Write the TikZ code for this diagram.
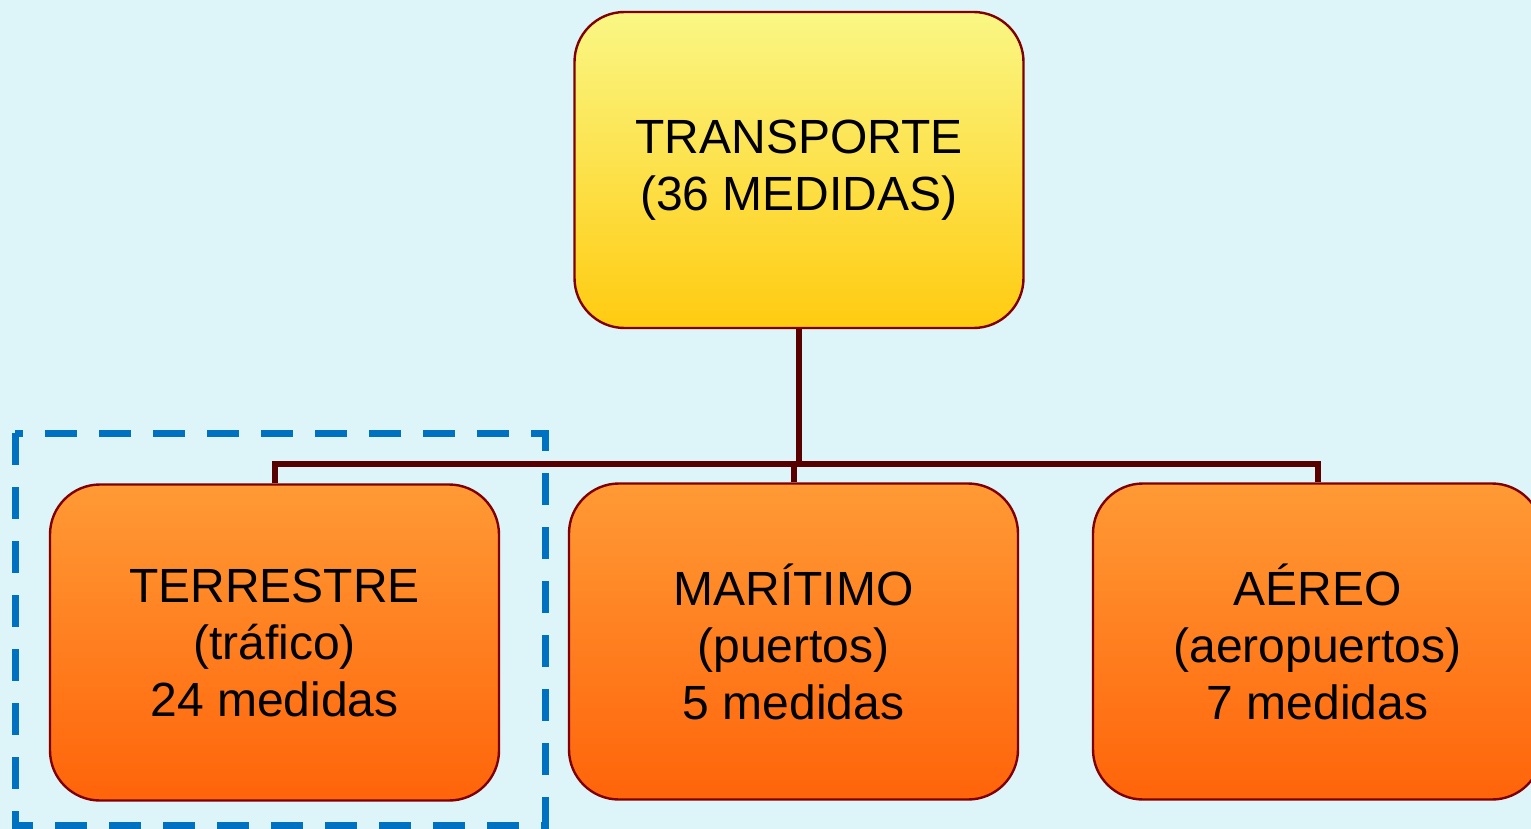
\documentclass[tikz,border=0pt]{standalone}
\usepackage{fontspec}
\setmainfont{Liberation Sans}
\definecolor{fondo}{HTML}{DDF4F8}
\definecolor{borde}{HTML}{800000}
\definecolor{enlace}{HTML}{580000}
\definecolor{amarilloA}{HTML}{FAF785}
\definecolor{amarilloB}{HTML}{FFCB10}
\definecolor{naranjaA}{HTML}{FF9A35}
\definecolor{naranjaB}{HTML}{FF640A}
\definecolor{azul}{HTML}{0070C0}
\tikzstyle{caja}=[rectangle, rounded corners=25pt, draw=borde, line width=1.2pt, minimum width=224.5pt, minimum height=158pt, inner sep=0pt, align=center, font=\fontsize{24}{28.5}\selectfont]
\tikzstyle{raiz}=[caja, top color=amarilloA, bottom color=amarilloB]
\tikzstyle{rama}=[caja, top color=naranjaA, bottom color=naranjaB]
\tikzstyle{enlace}=[draw=enlace, line width=3pt]
\tikzstyle{marco}=[draw=azul, line width=3.5pt, dash pattern=on 16pt off 11pt]
\newcommand{\raiz}{\node[raiz]}
\newcommand{\rama}{\node[rama]}

\begin{document}
\begin{tikzpicture}[x=0.5pt, y=-0.5pt]
\useasboundingbox (0,0) rectangle (1531,829);
\clip (0,0) rectangle (1531,829);
\fill[fondo] (0,0) rectangle (1531,829);
\raiz (trans) at (799,170){TRANSPORTE\\(36 MEDIDAS)};
\rama (terr) at (274.5,642.5){TERRESTRE\\(tráfico)\\24 medidas};
\rama (mar) at (793.5,641.5){MARÍTIMO\\(puertos)\\5 medidas};
\rama (aereo) at (1317.5,641.5){AÉREO\\(aeropuertos)\\7 medidas};
\draw[enlace] (trans.south) -- ++(0,135) coordinate (bar);
\draw[enlace] (terr.north) |- (bar) -| (aereo.north);
\draw[enlace] (mar.north) -- (mar.north |- bar);
\draw[marco] (15,433) rectangle (545,825);
\end{tikzpicture}
\end{document}
